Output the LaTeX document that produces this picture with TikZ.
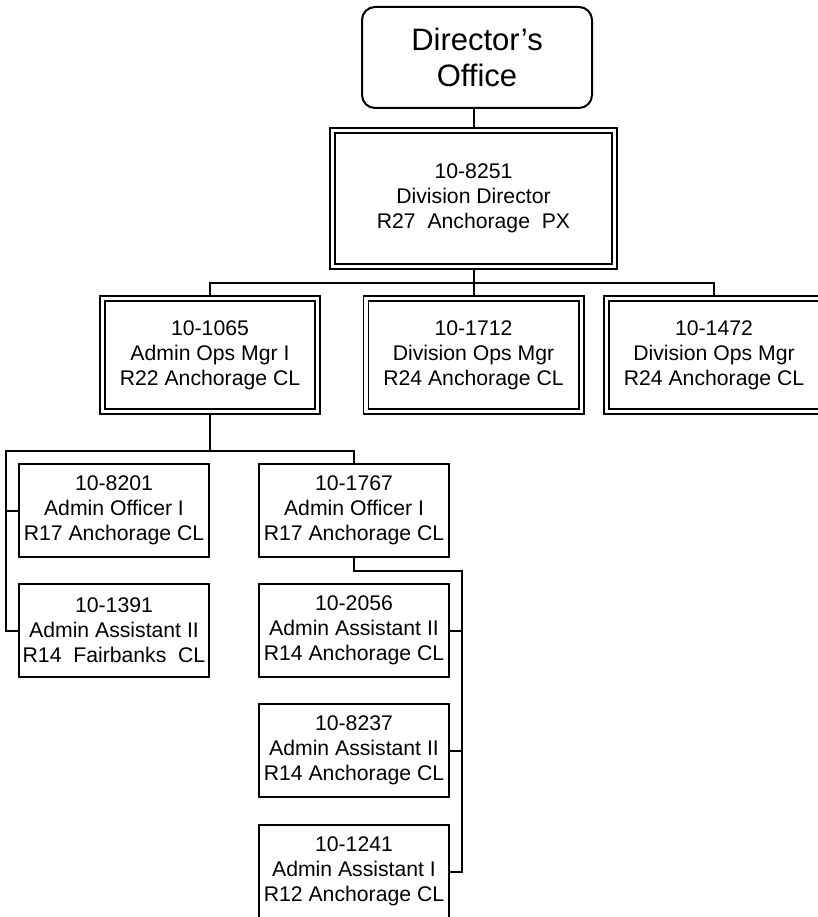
\documentclass[tikz,border=0pt]{standalone}
\usepackage{fontspec}
\setmainfont{Liberation Sans}
\begin{document}
\begin{tikzpicture}[x=1pt,y=-1pt,
  conn/.style={line width=2pt},
  txt/.style={font=\fontsize{21.2}{25}\selectfont, align=center, inner sep=0pt},
  dbox/.style={txt, draw, line width=1.7pt, double, double distance=3.3pt, outer sep=3.35pt},
  lvltwo/.style={dbox, minimum width=215.3pt, minimum height=113.3pt},
  sbox/.style={txt, draw, line width=2pt, minimum width=190pt, minimum height=93pt},
  obox/.style={draw, line width=2pt, rounded corners=13pt, minimum width=230pt, minimum height=101pt, align=center, inner sep=0pt, font=\fontsize{31}{36.5}\selectfont}
]
\useasboundingbox (0,0) rectangle (818,917);
\clip (0,0) rectangle (818,917);

\node[obox] (office) at (477,57.5) {Director’s\\Office};
\node[dbox, minimum width=282.3pt, minimum height=136.3pt] (dd) at (473.5,198.5) {10-8251\\Division Director\\R27\ \ Anchorage\ \ PX};

\node[lvltwo] (l2a) at (210,355) {10-1065\\Admin Ops Mgr I\\R22 Anchorage CL};
\node[lvltwo] (l2b) at (473.5,355) {10-1712\\Division Ops Mgr\\R24 Anchorage CL};
\node[lvltwo] (l2c) at (714,355) {10-1472\\Division Ops Mgr\\R24 Anchorage CL};

\node[sbox] (l3a) at (114,510.5) {10-8201\\Admin Officer I\\R17 Anchorage CL};
\node[sbox] (l3b) at (114,630.5) {10-1391\\Admin Assistant II\\R14\ \ Fairbanks\ \ CL};
\node[sbox] (l3c) at (354,510.5) {10-1767\\Admin Officer I\\R17 Anchorage CL};
\node[sbox] (l3d) at (354,630.5) {10-2056\\Admin Assistant II\\R14 Anchorage CL};
\node[sbox] (l3e) at (354,750.5) {10-8237\\Admin Assistant II\\R14 Anchorage CL};
\node[sbox] (l3f) at (354,871.5) {10-1241\\Admin Assistant I\\R12 Anchorage CL};

% connectors
\draw[conn] (dd.north) -- (dd.north |- office.south);
\coordinate (bus1) at (473.5,283);
\draw[conn] (dd.south) -- (bus1);
\draw[conn] (l2a.north) |- (l2c.north |- bus1) -- (l2c.north);
\draw[conn] (l2b.north) -- (l2b.north |- bus1);

\coordinate (bustwo) at (6,451);
\draw[conn] (l2a.south) -- (l2a.south |- bustwo);
\draw[conn] (l3b.west) -| (bustwo) -- (l3c.north |- bustwo) -- (l3c.north);
\draw[conn] (l3a.west) -- (l3a.west -| bustwo);

\coordinate (rbus) at (462,571);
\draw[conn] (l3c.south) |- (rbus) |- (l3f.east);
\draw[conn] (l3d.east) -- (l3d.east -| rbus);
\draw[conn] (l3e.east) -- (l3e.east -| rbus);
\end{tikzpicture}
\end{document}
